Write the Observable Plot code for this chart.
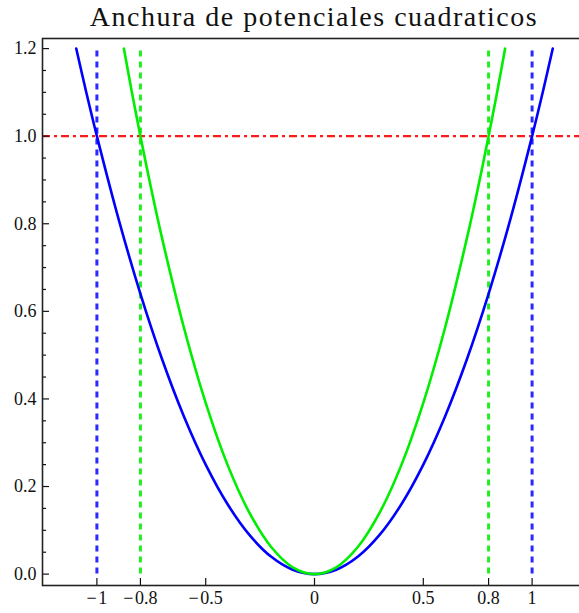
<!DOCTYPE html>
<html>
<head>
<meta charset="utf-8">
<script src="https://cdn.jsdelivr.net/npm/d3@7"></script>
<script src="https://cdn.jsdelivr.net/npm/@observablehq/plot@0.6"></script>
<style>
  html, body { margin: 0; padding: 0; background: #fff; overflow: hidden; }
  #wrap { width: 579px; height: 613px; overflow: hidden; position: relative; }
  #title { width: 544px; margin-left: 42px; height: 30px; line-height: 34px; text-align: center;
           font-family: "Liberation Serif", serif; font-size: 28px; letter-spacing: 1.5px;
           color: #111; white-space: nowrap; overflow: visible; }
  #chart { width: 586px; }
</style>
</head>
<body>
<div id="wrap">
  <div id="title">Anchura de potenciales cuadraticos</div>
  <div id="chart"></div>
</div>
<script>
// Blue parabola (width 1): points
const blueX = [-1.095, -1.05, -1.0, -0.9, -0.8, -0.7, -0.6, -0.5, -0.4, -0.3, -0.2, -0.1, 0, 0.1, 0.2, 0.3, 0.4, 0.5, 0.6, 0.7, 0.8, 0.9, 1.0, 1.05, 1.095];
const blueY = [1.2, 1.1025, 1.0, 0.81, 0.64, 0.49, 0.36, 0.25, 0.16, 0.09, 0.04, 0.01, 0, 0.01, 0.04, 0.09, 0.16, 0.25, 0.36, 0.49, 0.64, 0.81, 1.0, 1.1025, 1.2];
// Green parabola (width 0.8)
const greenX = [-0.876, -0.84, -0.8, -0.75, -0.7, -0.6, -0.5, -0.4, -0.3, -0.2, -0.1, 0, 0.1, 0.2, 0.3, 0.4, 0.5, 0.6, 0.7, 0.75, 0.8, 0.84, 0.876];
const greenY = [1.2, 1.1025, 1.0, 0.879, 0.766, 0.5625, 0.391, 0.25, 0.141, 0.0625, 0.0156, 0, 0.0156, 0.0625, 0.141, 0.25, 0.391, 0.5625, 0.766, 0.879, 1.0, 1.1025, 1.2];
// Dashed width markers
const blueWidth = [-1, 1];
const greenWidth = [-0.8, 0.8];
const markerSpan = [0, 1.2];
// Level line
const level = [1.0];
// Ticks
const xTicks = [-1, -0.8, -0.5, 0, 0.5, 0.8, 1];
const xTickLabels = ["\u2212\u200A1", "\u2212\u200A0.8", "\u2212\u200A0.5", "0", "0.5", "0.8", "1"];
const yTicks = [0, 0.2, 0.4, 0.6, 0.8, 1.0, 1.2];
const yTickLabels = ["0.0", "0.2", "0.4", "0.6", "0.8", "1.0", "1.2"];
const yMinor = [0.05, 0.1, 0.15, 0.25, 0.3, 0.35, 0.45, 0.5, 0.55, 0.65, 0.7, 0.75, 0.85, 0.9, 0.95, 1.05, 1.1, 1.15];
const xDomain = [-1.25, 1.25];
const yDomain = [-0.026, 1.223];

const font = "Liberation Serif";

const plot = Plot.plot({
  width: 586,
  height: 583,
  marginLeft: 42,
  marginRight: 0,
  marginTop: 8,
  marginBottom: 28,
  style: { fontFamily: font, fontSize: "18px", color: "#111", background: "#fff" },
  x: { domain: xDomain, axis: null },
  y: { domain: yDomain, axis: null },
  marks: [
    Plot.ruleX(blueWidth, { y1: markerSpan[0], y2: markerSpan[1], stroke: "#2a2aff", strokeWidth: 3, strokeDasharray: "6,5" }),
    Plot.ruleX(greenWidth, { y1: markerSpan[0], y2: markerSpan[1], stroke: "#22ee22", strokeWidth: 3, strokeDasharray: "6,5" }),
    Plot.ruleY(level, { stroke: "#ff1a1a", strokeWidth: 2.2, strokeDasharray: "8,4,3,4" }),
    Plot.line(blueX, { x: blueX, y: (d, i) => blueY[i], stroke: "#0000ff", strokeWidth: 2.6, curve: "catmull-rom" }),
    Plot.line(greenX, { x: greenX, y: (d, i) => greenY[i], stroke: "#00ee00", strokeWidth: 2.6, curve: "catmull-rom" }),
    Plot.axisY({ ticks: yTicks, tickSize: -7, text: null, strokeWidth: 1.2 }),
    Plot.axisY({ ticks: yMinor, tickSize: -4, text: null, strokeWidth: 1.2 }),
    Plot.axisY({ ticks: yTicks, tickSize: 0, tickPadding: 6, tickFormat: (d, i) => yTickLabels[i], fontSize: 18 }),
    Plot.axisX({ ticks: xTicks, tickSize: -7, text: null, strokeWidth: 1.2 }),
    Plot.axisX({ ticks: xTicks, tickSize: 0, tickPadding: 6, tickFormat: (d, i) => xTickLabels[i], fontSize: 18 }),
    Plot.frame({ stroke: "#222", strokeWidth: 1.6 })
  ]
});
d3.select(plot).selectAll("text, tspan, g")
  .attr("font-family", font)
  .style("font-family", "'Liberation Serif', serif");
document.getElementById("chart").appendChild(plot);
</script>
</body>
</html>
